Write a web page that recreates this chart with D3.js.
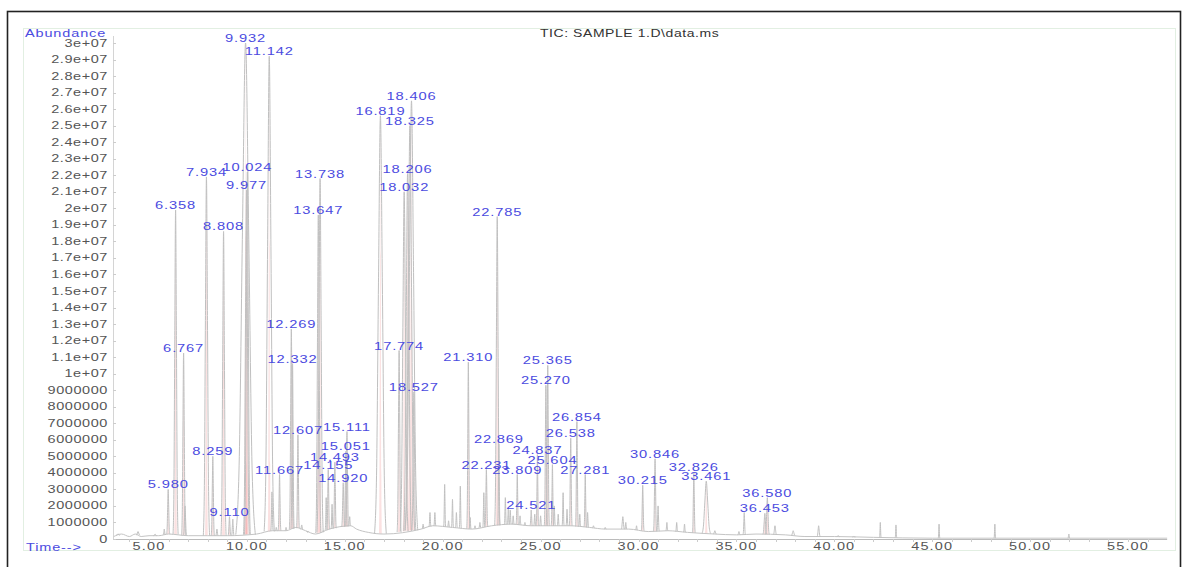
<!DOCTYPE html>
<html>
<head>
<meta charset="utf-8">
<script src="https://cdn.jsdelivr.net/npm/d3@7/dist/d3.min.js"></script>
<style>
  body { margin: 0; background: #fff; }
  svg { display: block; font-family: "Liberation Sans", Arial, sans-serif; }
</style>
</head>
<body>
<svg id="chart" width="1184" height="567"></svg>
<script>
// labelled peaks (retention time in min, abundance, half base width in min)
var peakTimes = [5.980, 6.358, 6.767, 7.934, 8.259, 8.808, 9.110, 9.932, 9.977, 10.024,
  11.142, 11.667, 12.269, 12.332, 12.607, 13.647, 13.738, 14.155, 14.493, 14.920,
  15.051, 15.111, 16.819, 17.774, 18.032, 18.206, 18.325, 18.406, 18.527, 21.310,
  22.231, 22.785, 22.869, 23.809, 24.521, 24.837, 25.270, 25.365, 25.604, 26.538,
  26.854, 27.281, 30.215, 30.846, 32.826, 33.461, 36.453, 36.580];
var peakHeights = [3.0e6, 19.9e6, 11.25e6, 21.9e6, 5.0e6, 18.6e6, 1.35e6, 30.0e6, 21.1e6, 22.2e6,
  29.2e6, 3.9e6, 12.7e6, 10.6e6, 6.3e6, 19.6e6, 21.8e6, 4.2e6, 4.65e6, 3.4e6,
  5.3e6, 6.5e6, 25.6e6, 11.4e6, 21.0e6, 22.1e6, 25.0e6, 26.5e6, 8.9e6, 10.7e6,
  4.2e6, 19.5e6, 5.75e6, 3.9e6, 1.75e6, 5.1e6, 9.3e6, 10.5e6, 4.5e6, 6.1e6,
  7.1e6, 3.9e6, 3.25e6, 4.85e6, 4.05e6, 3.5e6, 1.55e6, 2.5e6];
var peakWidths = [0.08, 0.13, 0.1, 0.16, 0.08, 0.13, 0.07, 0.5, 0.15, 0.15,
  0.26, 0.07, 0.1, 0.08, 0.07, 0.13, 0.16, 0.07, 0.07, 0.08,
  0.07, 0.08, 0.3, 0.1, 0.2, 0.2, 0.25, 0.32, 0.1, 0.08,
  0.07, 0.13, 0.06, 0.06, 0.06, 0.06, 0.08, 0.08, 0.06, 0.07,
  0.07, 0.06, 0.07, 0.08, 0.07, 0.22, 0.1, 0.1];

// small unlabelled peaks
var minorTimes = [3.42, 4.44, 5.31, 5.78, 6.84, 8.47, 9.28, 11.28, 11.5, 12.0,
  12.8, 13.1, 13.9, 14.05, 14.35, 15.25, 19.0, 19.35, 19.6, 20.1,
  20.3, 20.5, 20.7, 20.9, 21.4, 21.65, 21.9, 22.1, 23.2, 23.35,
  23.45, 23.6, 23.95, 24.2, 24.7, 25.0, 25.7, 25.9, 26.15, 26.35,
  27.0, 27.4, 27.7, 28.3, 29.2, 29.35, 29.9, 31.0, 31.45, 31.95,
  32.35, 33.9, 35.13, 35.4, 36.97, 37.9, 39.2, 40.2, 41.0, 42.35,
  43.15, 45.35, 48.2, 51.98];
var minorHeights = [0.3e6, 0.45e6, 0.3e6, 0.6e6, 2.0e6, 0.6e6, 1.2e6, 2.85e6, 0.7e6, 0.7e6,
  0.85e6, 0.4e6, 0.5e6, 2.5e6, 2.1e6, 1.35e6, 0.9e6, 1.6e6, 1.6e6, 3.3e6,
  1.1e6, 2.4e6, 1.6e6, 3.2e6, 1.3e6, 0.8e6, 1.0e6, 2.8e6, 2.5e6, 1.8e6,
  1.75e6, 1.4e6, 1.4e6, 1.0e6, 1.5e6, 1.4e6, 2.0e6, 1.5e6, 2.8e6, 1.8e6,
  1.5e6, 1.6e6, 0.8e6, 0.7e6, 1.35e6, 1.0e6, 0.8e6, 2.0e6, 1.0e6, 1.0e6,
  0.9e6, 0.5e6, 0.45e6, 1.6e6, 0.8e6, 0.5e6, 0.8e6, 0.2e6, 0.15e6, 1.0e6,
  0.85e6, 0.9e6, 0.9e6, 0.3e6];
var minorWidths = [0.1, 0.1, 0.08, 0.05, 0.08, 0.06, 0.06, 0.06, 0.05, 0.05,
  0.06, 0.05, 0.05, 0.05, 0.05, 0.05, 0.05, 0.05, 0.05, 0.05,
  0.05, 0.05, 0.05, 0.05, 0.05, 0.05, 0.05, 0.05, 0.05, 0.05,
  0.05, 0.05, 0.05, 0.05, 0.05, 0.05, 0.05, 0.05, 0.05, 0.05,
  0.05, 0.05, 0.05, 0.05, 0.08, 0.05, 0.05, 0.06, 0.05, 0.05,
  0.05, 0.08, 0.06, 0.06, 0.08, 0.1, 0.08, 0.08, 0.08, 0.04,
  0.04, 0.04, 0.04, 0.05];

// baseline of the trace
var baseTimes = [3.2, 3.6, 4.0, 4.3, 4.6, 5.0, 5.5, 6.0, 7.0, 8.0, 9.0, 10.5, 11.3, 12.0, 12.5,
  13.0, 13.5, 14.2, 15.3, 15.6, 16.2, 17.0, 18.9, 19.5, 20.5, 21.5, 22.5, 23.5, 24.5, 25.5,
  26.5, 27.5, 28.3, 29.5, 30.5, 31.5, 32.5, 33.9, 35.0, 36.0, 37.5, 38.5, 40.0, 42.0, 45.0, 57.0];
var baseValues = [0.15e6, 0.3e6, 0.15e6, 0.3e6, 0.15e6, 0.2e6, 0.2e6, 0.3e6, 0.2e6, 0.2e6, 0.2e6, 0.3e6, 0.5e6, 0.5e6, 0.7e6,
  0.5e6, 0.3e6, 0.6e6, 0.8e6, 0.6e6, 0.4e6, 0.3e6, 0.6e6, 0.8e6, 0.7e6, 0.6e6, 0.8e6, 0.9e6, 0.8e6, 0.8e6,
  0.8e6, 0.7e6, 0.6e6, 0.6e6, 0.45e6, 0.5e6, 0.4e6, 0.3e6, 0.25e6, 0.3e6, 0.25e6, 0.15e6, 0.15e6, 0.1e6, 0.05e6, 0.05e6];

var xTicks = [5, 10, 15, 20, 25, 30, 35, 40, 45, 50, 55];
var xTickLabels = ["5.00", "10.00", "15.00", "20.00", "25.00", "30.00", "35.00", "40.00", "45.00", "50.00", "55.00"];
var yTickLabels = ["0", "1000000", "2000000", "3000000", "4000000", "5000000", "6000000", "7000000",
  "8000000", "9000000", "1e+07", "1.1e+07", "1.2e+07", "1.3e+07", "1.4e+07", "1.5e+07", "1.6e+07",
  "1.7e+07", "1.8e+07", "1.9e+07", "2e+07", "2.1e+07", "2.2e+07", "2.3e+07", "2.4e+07", "2.5e+07",
  "2.6e+07", "2.7e+07", "2.8e+07", "2.9e+07", "3e+07"];
var yTicks = yTickLabels.map(function (d, i) { return i * 1e6; });

// relative peak outline
var profileOffsets = [-1, -0.66, -0.33, 0, 0.33, 0.66, 1];
var profileFractions = [0, 0.14, 0.6, 1, 0.6, 0.14, 0];

var svg = d3.select("#chart");
var x = d3.scaleLinear().domain([5, 55]).range([149, 1128]);
var y = d3.scaleLinear().domain([0, 3e7]).range([539, 43]);
var xMax = 57.0;

var baseAt = d3.scaleLinear().domain(baseTimes).range(baseValues);

// outer frame and plot box
svg.append("rect").attr("x", 7.5).attr("y", 11.5).attr("width", 1173).attr("height", 600)
  .attr("fill", "none").attr("stroke", "#222").attr("stroke-width", 1.6);
svg.append("rect").attr("x", 23.5).attr("y", 28.5).attr("width", 1152).attr("height", 522)
  .attr("fill", "none").attr("stroke", "#e2efe2");

// axes
svg.append("line").attr("x1", 113.5).attr("x2", 113.5).attr("y1", 36).attr("y2", 539)
  .attr("stroke", "#d4d4d4");
svg.append("line").attr("x1", 113).attr("x2", x(xMax)).attr("y1", 539.5).attr("y2", 539.5)
  .attr("stroke", "#bbb");

svg.selectAll(".ytick").data(yTicks).enter().append("line")
  .attr("x1", 113).attr("x2", 116)
  .attr("y1", d => Math.round(y(d)) + 0.5).attr("y2", d => Math.round(y(d)) + 0.5)
  .attr("stroke", "#ccc");

svg.selectAll(".ylab").data(yTicks).enter().append("text")
  .attr("transform", d => "translate(108," + (y(d) + 3.5) + ") scale(1.45,1)")
  .attr("text-anchor", "end")
  .attr("font-size", 10)
  .attr("letter-spacing", 0.4)
  .attr("fill", "#555")
  .text((d, i) => yTickLabels[i]);

svg.selectAll(".xminor").data(d3.range(4, 57)).enter().append("line")
  .attr("x1", d => Math.round(x(d)) + 0.5).attr("x2", d => Math.round(x(d)) + 0.5)
  .attr("y1", 539).attr("y2", 542)
  .attr("stroke", "#ccc");

svg.selectAll(".xlab").data(xTicks).enter().append("text")
  .attr("transform", d => "translate(" + x(d) + ",550) scale(1.45,1)")
  .attr("text-anchor", "middle")
  .attr("font-size", 10)
  .attr("letter-spacing", 0.8)
  .attr("fill", "#555")
  .text((d, i) => xTickLabels[i]);

// titles
svg.append("text").attr("transform", "translate(25,37) scale(1.45,1)")
  .attr("font-size", 10).attr("letter-spacing", 0.6).attr("fill", "#4b4bdf").text("Abundance");
svg.append("text").attr("transform", "translate(26,551) scale(1.45,1)")
  .attr("font-size", 10).attr("letter-spacing", 0.6).attr("fill", "#4b4bdf").text("Time-->");
svg.append("text").attr("transform", "translate(540,37) scale(1.4,1)")
  .attr("font-size", 10).attr("letter-spacing", 0.4).attr("fill", "#333")
  .text("TIC: SAMPLE 1.D\\data.ms");

// build peak outlines
function peakPoints(t, h, w) {
  var b = baseAt(t);
  return profileOffsets.map(function (o, i) {
    return [t + o * w, b + (h - b) * profileFractions[i]];
  });
}
var line = d3.line().x(d => x(d[0])).y(d => y(d[1])).curve(d3.curveMonotoneX);
var area = d3.area().x(d => x(d[0])).y0(d => y(baseAt(d[0]))).y1(d => y(d[1])).curve(d3.curveMonotoneX);

var labelled = peakTimes.map((t, i) => ({ t: t, h: peakHeights[i], w: peakWidths[i] }));
var minor = minorTimes.map((t, i) => ({ t: t, h: minorHeights[i], w: minorWidths[i] }));

// integrated areas, drawn as a narrow strip inside each labelled peak
svg.append("g").selectAll("path").data(labelled).enter().append("path")
  .attr("d", d => area(peakPoints(d.t, d.h, Math.min(d.w, 0.12) * 0.6)))
  .attr("fill", "rgba(235,120,120,0.22)");

// baseline trace
svg.append("path")
  .attr("d", line(baseTimes.map((t, i) => [t, baseValues[i]])))
  .attr("fill", "none").attr("stroke", "#c4c4c4").attr("stroke-width", 1);

svg.append("g").selectAll("path").data(minor.concat(labelled)).enter().append("path")
  .attr("d", d => line(peakPoints(d.t, d.h, d.w)))
  .attr("fill", "none").attr("stroke", "#c0c0c0").attr("stroke-width", 1);

// peak labels
svg.append("g").selectAll("text").data(labelled).enter().append("text")
  .attr("transform", d => "translate(" + x(d.t) + "," + (y(d.h) - 1) + ") scale(1.4,1)")
  .attr("text-anchor", "middle")
  .attr("font-size", 10.5)
  .attr("letter-spacing", 0.6)
  .attr("fill", "#4b4bdf")
  .text(d => d.t.toFixed(3));
</script>
</body>
</html>
